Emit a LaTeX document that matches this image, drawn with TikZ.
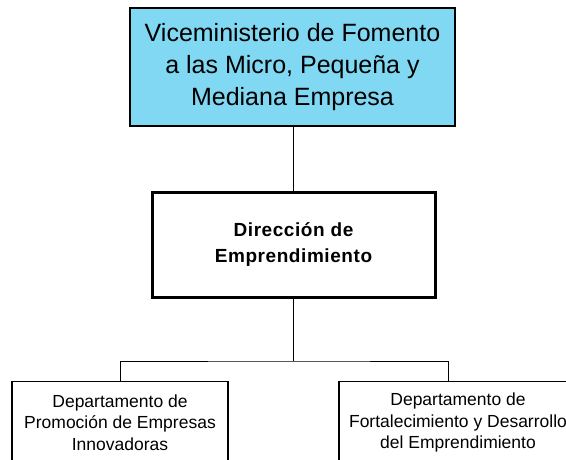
\documentclass[tikz,border=0pt]{standalone}
\usepackage{fontspec}
\setmainfont{Liberation Sans}
\usepackage{tikz}

\definecolor{viceblue}{RGB}{128,216,243}

\tikzset{
  unitbox/.style={draw=black,rectangle,align=center,inner sep=0pt},
  link/.style={draw=black,line width=1.3pt}
}

\begin{document}
\begin{tikzpicture}[x=1pt,y=-1pt]

% Fix the page size
\useasboundingbox (0,0) rectangle (566,460);
\clip (0,0) rectangle (566,460);

% Draw the top unit
\node[unitbox,fill=viceblue,line width=1.3pt,minimum width=325pt,minimum height=118pt,
  font=\fontsize{25}{32}\selectfont] (vice) at (292.5,67)
  {Viceministerio de Fomento\\a las Micro, Peque\~na y\\Mediana Empresa};

% Draw the direction
\node[unitbox,line width=3pt,minimum width=283pt,minimum height=104pt,
  font=\fontsize{19}{26}\selectfont\bfseries\addfontfeature{LetterSpace=3}] (dir) at (293.5,245)
  {Direcci\'on de\\Emprendimiento};

% Draw the two departments
\node[unitbox,line width=1.2pt,minimum width=216pt,minimum height=82pt,anchor=north,
  font=\fontsize{17.5}{21.5}\selectfont] (promo) at (120,381)
  {Departamento de\\Promoci\'on de Empresas\\Innovadoras};
\node[unitbox,line width=1.2pt,minimum width=238pt,minimum height=82pt,anchor=north,
  font=\fontsize{17.5}{21.5}\selectfont] (fort) at (458,381)
  {Departamento de\\Fortalecimiento y Desarrollo\\del Emprendimiento};

% Connectors
\coordinate (bus) at (dir.south |- 0,361);
\coordinate (fortin) at (448,381);
\draw[link,line width=1.5pt] (vice.south -| dir.north) -- (dir.north);
\draw[link,line width=1.5pt] (dir.south) -- (bus);
\draw[link,line width=1pt] (promo.north) |- (bus) -| (fortin);

\end{tikzpicture}
\end{document}
